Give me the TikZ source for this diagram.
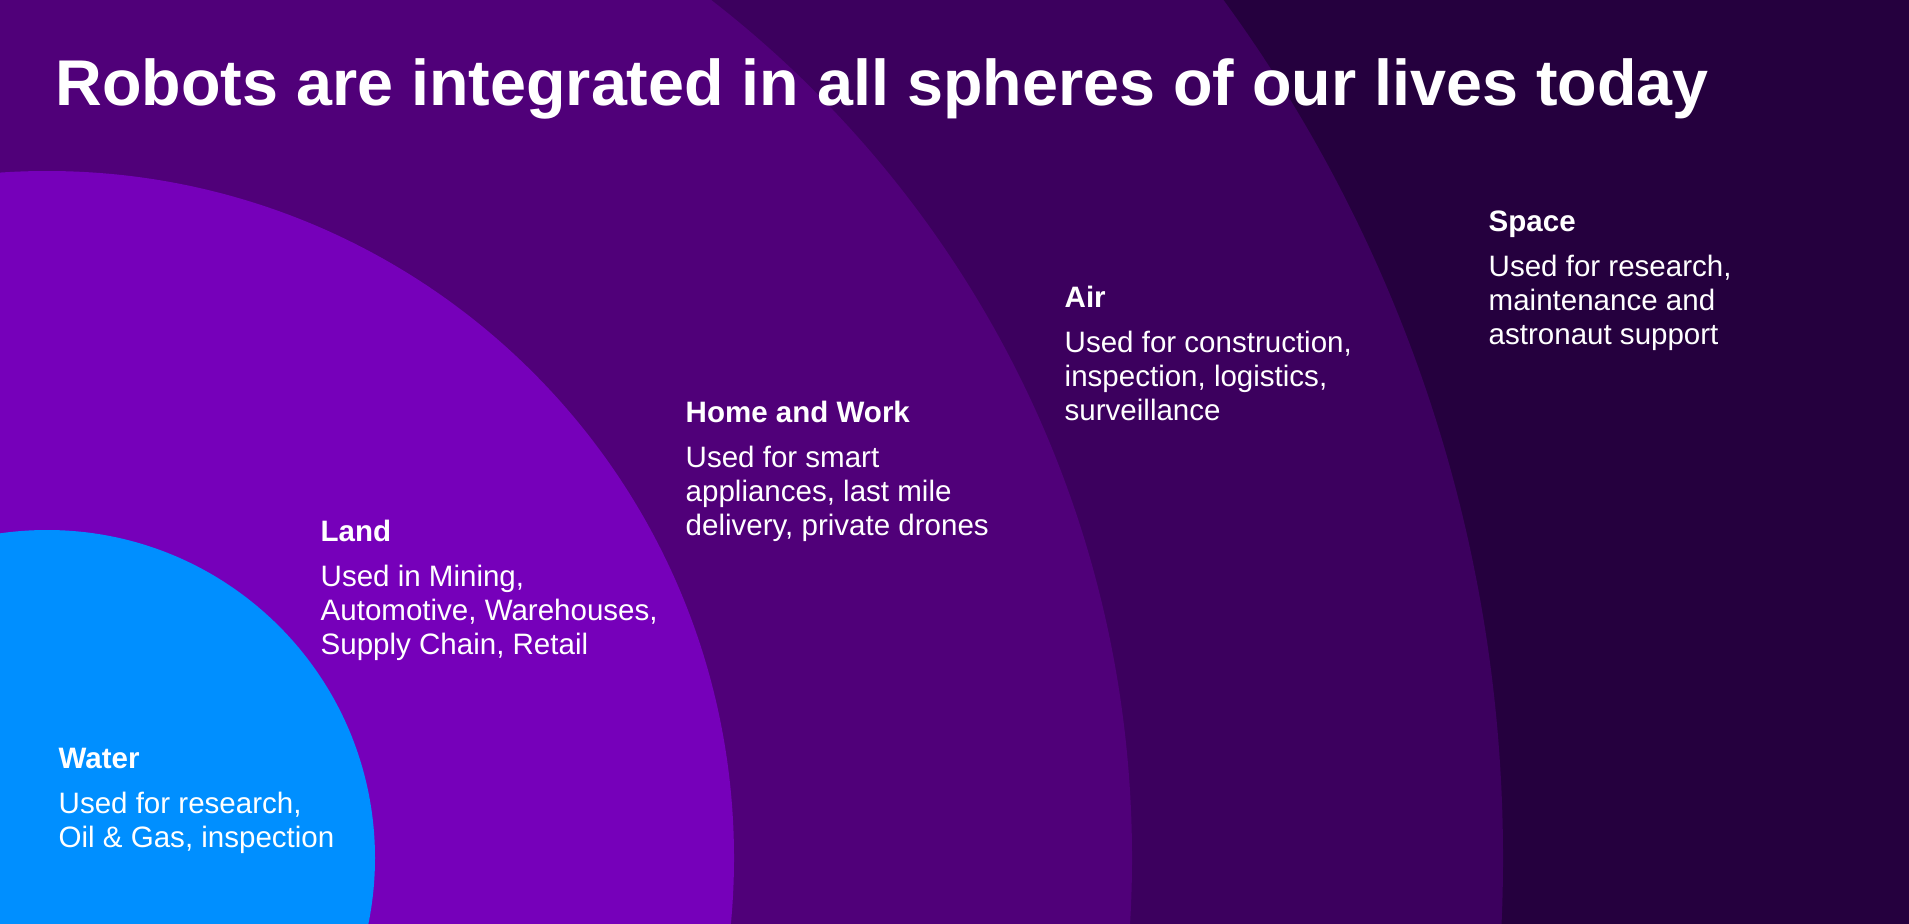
\documentclass[tikz,border=0pt]{standalone}
\usepackage{fontspec}
\setmainfont{Liberation Sans}
\usetikzlibrary{positioning}

\definecolor{spaceclr}{HTML}{25003E}
\definecolor{airclr}{HTML}{3C005E}
\definecolor{homeclr}{HTML}{500079}
\definecolor{landclr}{HTML}{7600BA}
\definecolor{waterclr}{HTML}{008FFF}

\begin{document}
\begin{tikzpicture}[
    head/.style={anchor=base west, inner sep=0pt, text=white, text depth=0pt, font=\fontsize{8.4}{9.7}\selectfont\bfseries},
    body/.style={inner sep=0pt, text=white, align=left, font=\fontsize{8.4}{9.67}\selectfont},
]
    % Spheres
    \useasboundingbox (0,0) rectangle (19.09,9.23);
    \clip (-0.2,-0.2) rectangle (19.3,9.43);
    \fill[spaceclr] (-0.2,-0.2) rectangle (19.3,9.43);
    \coordinate (c) at (0.47,0.65);
    \fill[airclr] (c) circle (14.56);
    \fill[homeclr] (c) circle (10.85);
    \fill[landclr] (c) circle (6.87);
    \fill[waterclr] (c) circle (3.28);

    % Title
    \node[anchor=base west, inner sep=0pt, text=white, font=\fontsize{18.4}{20}\selectfont\bfseries] (title) at (0.55,8.17) {Robots are integrated in all spheres of our lives today};

    % Labels
    \node[head] (water) at (0.58,1.55) {Water};
    \node[body, below=2.24mm of water.south west, anchor=north west] (waterTxt) {Used for research,\\Oil \& Gas, inspection};

    \node[head] (land) at (3.20,3.82) {Land};
    \node[body, below=2.24mm of land.south west, anchor=north west] (landTxt) {Used in Mining,\\Automotive, Warehouses,\\Supply Chain, Retail};

    \node[head] (home) at (6.85,5.01) {Home and Work};
    \node[body, below=2.24mm of home.south west, anchor=north west] (homeTxt) {Used for smart\\appliances, last mile\\delivery, private drones};

    \node[head] (air) at (10.64,6.16) {Air};
    \node[body, below=2.24mm of air.south west, anchor=north west] (airTxt) {Used for construction,\\inspection, logistics,\\surveillance};

    \node[head] (space) at (14.88,6.92) {Space};
    \node[body, below=2.24mm of space.south west, anchor=north west] (spaceTxt) {Used for research,\\maintenance and\\astronaut support};
\end{tikzpicture}
\end{document}
